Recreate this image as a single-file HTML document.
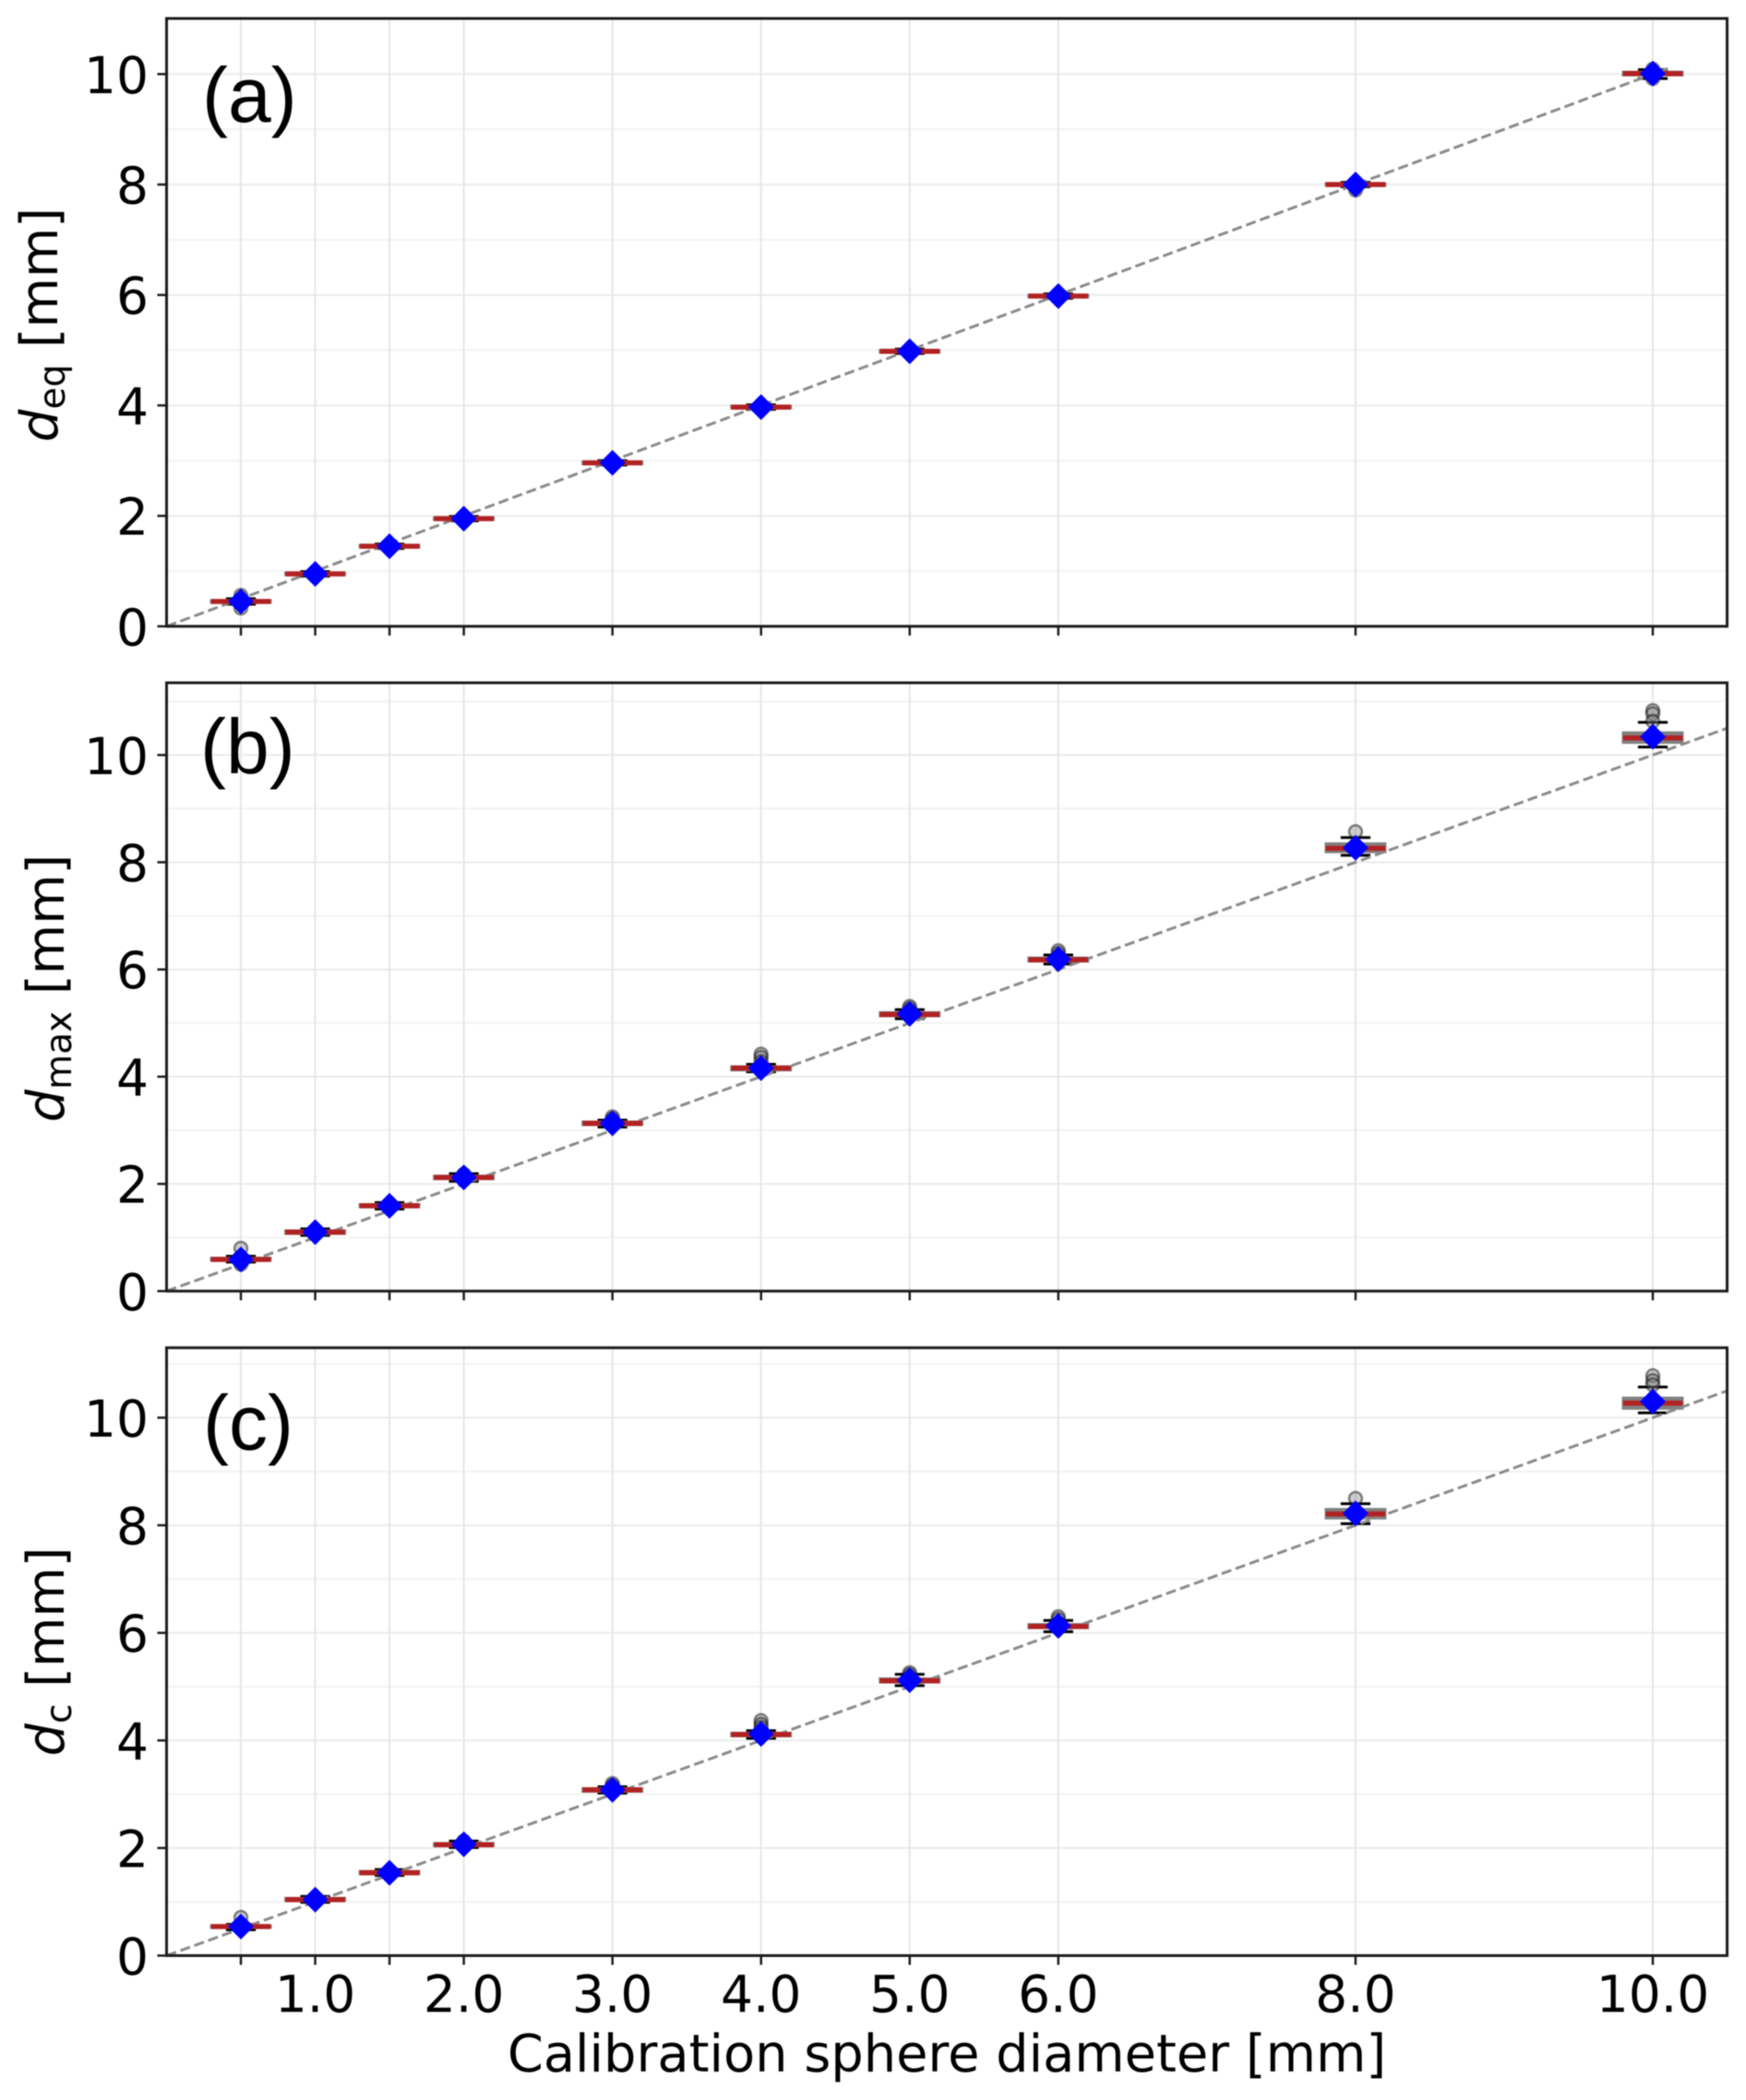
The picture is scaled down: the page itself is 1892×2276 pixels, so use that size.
<!DOCTYPE html>
<html lang="en">
<head>
<meta charset="utf-8">
<title>Calibration sphere diameter comparison</title>
<style>
html,body{margin:0;padding:0;background:#fff;width:1892px;height:2276px;overflow:hidden}
svg{display:block;filter:blur(.6px)}
text{font-family:"DejaVu Sans","Liberation Sans",sans-serif;fill:#000}
.panel-tag{font-family:"Liberation Sans",sans-serif;font-size:84px}
</style>
</head>
<body>
<svg id="chart" xmlns="http://www.w3.org/2000/svg" width="1892" height="2276" viewBox="0 0 1892 2276">
  <rect width="1892" height="2276" fill="#fff"/>
  <g id="panel-a"></g>
  <g id="panel-b"></g>
  <g id="panel-c"></g>
  <text class="panel-tag" x="219" y="132">(a)</text>
  <text class="panel-tag" x="217" y="838">(b)</text>
  <text class="panel-tag" x="220" y="1571">(c)</text>
  <text transform="translate(62,352) rotate(-90)" text-anchor="middle" font-size="55.8"><tspan font-style="italic">d</tspan><tspan dy="8" font-size="39">eq</tspan><tspan dy="-8"> [mm]</tspan></text>
  <text transform="translate(69,1071) rotate(-90)" text-anchor="middle" font-size="55.8"><tspan font-style="italic">d</tspan><tspan dy="8" font-size="39">max</tspan><tspan dy="-8"> [mm]</tspan></text>
  <text transform="translate(69,1790) rotate(-90)" text-anchor="middle" font-size="55.8"><tspan font-style="italic">d</tspan><tspan dy="8" font-size="39">c</tspan><tspan dy="-8"> [mm]</tspan></text>
  <text x="1026" y="2245" text-anchor="middle" font-size="55.8">Calibration sphere diameter [mm]</text>
</svg>
<script>
const categories = [0.5, 1, 1.5, 2, 3, 4, 5, 6, 8, 10];
const xTickLabels = ["", "1.0", "", "2.0", "3.0", "4.0", "5.0", "6.0", "8.0", "10.0"];
const yTickValues = [0, 2, 4, 6, 8, 10];
const yTickLabels = ["0", "2", "4", "6", "8", "10"];
const yMinorValues = [1, 3, 5, 7, 9, 11];
const aReferenceLine = [0, 10.1];
const bReferenceLine = [0, 10.5];
const cReferenceLine = [0, 10.5];

const aMedians = [0.45, 0.95, 1.45, 1.95, 2.96, 3.97, 4.98, 5.98, 8.00, 10.01];
const aMeans = [0.45, 0.95, 1.45, 1.95, 2.96, 3.97, 4.98, 5.98, 8.00, 10.01];
const aQ1 = [0.43, 0.93, 1.43, 1.93, 2.94, 3.95, 4.96, 5.96, 7.98, 9.98];
const aQ3 = [0.47, 0.97, 1.47, 1.97, 2.98, 3.99, 5.00, 6.00, 8.02, 10.04];
const aLow = [0.40, 0.91, 1.41, 1.91, 2.92, 3.93, 4.94, 5.94, 7.96, 9.92];
const aHigh = [0.50, 0.99, 1.49, 1.99, 3.00, 4.01, 5.02, 6.02, 8.04, 10.08];
const aFliers = [[0.56, 0.33], [], [], [], [], [], [], [], [7.90], [10.09, 9.92]];

const bMedians = [0.59, 1.10, 1.59, 2.12, 3.13, 4.16, 5.16, 6.18, 8.26, 10.32];
const bMeans = [0.59, 1.10, 1.59, 2.12, 3.13, 4.16, 5.17, 6.19, 8.27, 10.34];
const bQ1 = [0.57, 1.07, 1.57, 2.09, 3.10, 4.12, 5.13, 6.15, 8.19, 10.23];
const bQ3 = [0.62, 1.13, 1.62, 2.15, 3.16, 4.19, 5.20, 6.22, 8.35, 10.42];
const bLow = [0.54, 1.04, 1.53, 2.05, 3.06, 4.09, 5.08, 6.10, 8.13, 10.15];
const bHigh = [0.65, 1.16, 1.65, 2.19, 3.19, 4.23, 5.25, 6.27, 8.46, 10.61];
const bFliers = [[0.80, 0.50], [], [], [2.18], [3.25, 3.21], [4.42, 4.36, 4.28], [5.31, 5.27], [6.35, 6.30], [8.57], [10.83, 10.77, 10.63]];

const cMedians = [0.54, 1.04, 1.54, 2.06, 3.08, 4.11, 5.11, 6.12, 8.21, 10.27];
const cMeans = [0.54, 1.04, 1.54, 2.07, 3.08, 4.12, 5.12, 6.13, 8.22, 10.30];
const cQ1 = [0.52, 1.02, 1.52, 2.04, 3.05, 4.08, 5.08, 6.09, 8.13, 10.17];
const cQ3 = [0.56, 1.07, 1.57, 2.09, 3.11, 4.14, 5.15, 6.16, 8.30, 10.37];
const cLow = [0.48, 0.99, 1.49, 2.01, 3.02, 4.04, 5.02, 6.02, 8.03, 10.09];
const cHigh = [0.58, 1.10, 1.60, 2.13, 3.14, 4.18, 5.23, 6.23, 8.40, 10.57];
const cFliers = [[0.71], [], [], [2.13], [3.20, 3.16], [4.37, 4.30, 4.24], [5.26, 5.22], [6.30, 6.25], [8.50], [10.78, 10.69, 10.61]];

const NS = 'http://www.w3.org/2000/svg';
function make(parent, tag, attrs) {
  const node = document.createElementNS(NS, tag);
  for (const key in attrs) node.setAttribute(key, attrs[key]);
  parent.appendChild(node);
  return node;
}

function drawPanel(cfg) {
  const root = document.getElementById(cfg.id);
  const xScale = v => 180.5 + 161.05 * v;
  const yScale = v => cfg.bottom - cfg.unit * v;
  const right = xScale(10.5);

  const clipId = cfg.id + '-clip';
  const defs = make(root, 'defs', {});
  const clip = make(defs, 'clipPath', { id: clipId });
  make(clip, 'rect', { x: xScale(0), y: cfg.top, width: right - xScale(0), height: cfg.bottom - cfg.top });

  yMinorValues.forEach(v => {
    if (yScale(v) < cfg.top) return;
    const minor = make(root, 'line', { x1: xScale(0), x2: right, y1: yScale(v), y2: yScale(v), stroke: '#f3f3f3', 'stroke-width': 2 });
    
    
  });
  yTickValues.forEach(v => {
    const major = make(root, 'line', { x1: xScale(0), x2: right, y1: yScale(v), y2: yScale(v), stroke: '#ebebeb', 'stroke-width': 2 });
    
    
  });
  categories.forEach(v => {
    const grid = make(root, 'line', { x1: xScale(v), x2: xScale(v), y1: cfg.top, y2: cfg.bottom, stroke: '#e6e6e6', 'stroke-width': 2 });
    
    
  });

  categories.forEach((v, i) => {
    const cx = xScale(v);
    const whisker = make(root, 'line', { x1: cx, x2: cx, y1: yScale(cfg.low[i]), y2: yScale(cfg.high[i]), stroke: '#000', 'stroke-width': 2.5 });
    
    
    [cfg.low[i], cfg.high[i]].forEach(w => {
      const cap = make(root, 'line', { x1: xScale(v - 0.1), x2: xScale(v + 0.1), y1: yScale(w), y2: yScale(w), stroke: '#000', 'stroke-width': 3 });
      
      
    });
    cfg.fliers[i].forEach(f => {
      const flier = make(root, 'circle', { cx: cx, cy: yScale(f), r: 7, fill: 'rgba(128,128,128,.4)', stroke: 'rgba(0,0,0,.45)', 'stroke-width': 2.5 });
      
      
    });
    const box = make(root, 'rect', { x: xScale(v - 0.2), y: yScale(cfg.q3[i]), width: xScale(v + 0.2) - xScale(v - 0.2), height: yScale(cfg.q1[i]) - yScale(cfg.q3[i]), fill: '#808080', stroke: '#808080', 'stroke-width': 2.5 });
    
    
  });

  const ref = make(root, 'line', { x1: xScale(cfg.reference[0]), y1: yScale(cfg.reference[0]), x2: xScale(cfg.reference[1]), y2: yScale(cfg.reference[1]), stroke: '#8a8a8a', 'stroke-width': 3, 'stroke-dasharray': '11 5', 'clip-path': 'url(#' + clipId + ')' });
  
  

  categories.forEach((v, i) => {
    const median = make(root, 'line', { x1: xScale(v - 0.2), x2: xScale(v + 0.2), y1: yScale(cfg.medians[i]), y2: yScale(cfg.medians[i]), stroke: '#b22222', 'stroke-width': 5.5 });
    
    
  });
  categories.forEach((v, i) => {
    const cx = xScale(v), cy = yScale(cfg.means[i]), h = 14;
    const mean = make(root, 'polygon', { points: [cx - h, cy, cx, cy - h, cx + h, cy, cx, cy + h].join(' '), fill: '#0000ff' });
    
    
  });

  const frame = make(root, 'rect', { x: xScale(0), y: cfg.top, width: right - xScale(0), height: cfg.bottom - cfg.top, fill: 'none', stroke: '#1c1c1c', 'stroke-width': 3 });
  
  

  yTickValues.forEach((v, i) => {
    const tick = make(root, 'line', { x1: xScale(0) - 10, x2: xScale(0), y1: yScale(v), y2: yScale(v), stroke: '#1c1c1c', 'stroke-width': 2.5 });
    
    
    const label = make(root, 'text', { x: 161, y: yScale(v) + 20.5, 'text-anchor': 'end', 'font-size': 55 });
    label.textContent = yTickLabels[i];
    
    
  });
  categories.forEach((v, i) => {
    const tick = make(root, 'line', { x1: xScale(v), x2: xScale(v), y1: cfg.bottom, y2: cfg.bottom + 10, stroke: '#1c1c1c', 'stroke-width': 2.5 });
    
    
    if (cfg.showX && xTickLabels[i]) {
      const label = make(root, 'text', { x: xScale(v), y: cfg.bottom + 61, 'text-anchor': 'middle', 'font-size': 55 });
      label.textContent = xTickLabels[i];
      
      
    }
  });
}

drawPanel({ id: 'panel-a', top: 20, bottom: 678.8, unit: 59.85, showX: false, reference: aReferenceLine, medians: aMedians, means: aMeans, q1: aQ1, q3: aQ3, low: aLow, high: aHigh, fliers: aFliers });
drawPanel({ id: 'panel-b', top: 740, bottom: 1399.3, unit: 58.1, showX: false, reference: bReferenceLine, medians: bMedians, means: bMeans, q1: bQ1, q3: bQ3, low: bLow, high: bHigh, fliers: bFliers });
drawPanel({ id: 'panel-c', top: 1460.7, bottom: 2119.5, unit: 58.3, showX: true, reference: cReferenceLine, medians: cMedians, means: cMeans, q1: cQ1, q3: cQ3, low: cLow, high: cHigh, fliers: cFliers });
</script>
</body>
</html>
